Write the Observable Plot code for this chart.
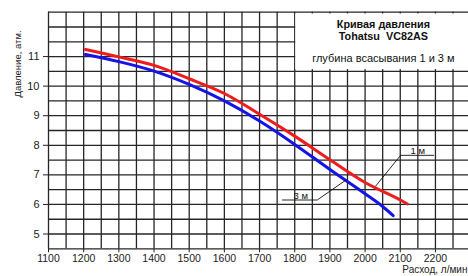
<!DOCTYPE html>
<html>
<head>
<meta charset="utf-8">
<script src="https://cdn.jsdelivr.net/npm/d3@7"></script>
<script src="https://cdn.jsdelivr.net/npm/@observablehq/plot@0.6"></script>
<style>
  html, body { margin: 0; padding: 0; background: #fff; }
  #chart svg { display: block; }
  #chart svg [aria-label^="x-axis"] text { font-size: 10.5px; }
</style>
</head>
<body>
<div id="chart"></div>
<script>
// --- data ---
const flow1m = [1205, 1300, 1400, 1500, 1600, 1700, 1800, 1900, 2000, 2100, 2120];
const press1m = [11.24, 10.99, 10.70, 10.25, 9.75, 9.05, 8.31, 7.51, 6.74, 6.15, 6.02];
const flow3m = [1205, 1300, 1400, 1500, 1600, 1700, 1800, 1900, 2000, 2050, 2080];
const press3m = [11.07, 10.83, 10.51, 10.06, 9.50, 8.82, 8.03, 7.18, 6.36, 5.93, 5.62];

const xTicks = [1100, 1200, 1300, 1400, 1500, 1600, 1700, 1800, 1900, 2000, 2100, 2200];
const yTicks = [5, 6, 7, 8, 9, 10, 11];
const xGrid = d3.range(1100, 2251, 50);
const yGrid = d3.range(4.5, 12.51, 0.5);

const titleLines = ["Кривая давления", "Tohatsu  VC82AS"];
const subtitle = "глубина всасывания 1 и 3 м";
const yLabel = "Давление, атм.";
const xLabel = "Расход, л/мин";
const seriesLabels = ["1 м", "3 м"];

// leader lines for series labels (flow, pressure)
const leader1m = [[2195, 7.66], [2101, 7.66], [2030, 6.62]];
const leader3m = [[1765, 6.15], [1864, 6.15], [1945, 6.82]];

const s1 = flow1m.map((f, i) => ({flow: f, p: press1m[i]}));
const s3 = flow3m.map((f, i) => ({flow: f, p: press3m[i]}));

const gridColor = "#262626";

const chart = Plot.plot({
  width: 468,
  height: 276,
  marginLeft: 48,
  marginRight: 0,
  marginTop: 11.7,
  marginBottom: 27.7,
  style: {fontFamily: "'Liberation Sans', Arial, sans-serif", fontSize: "11px", color: "#222", background: "#fff"},
  x: {domain: [1100, 2294], ticks: xTicks, tickSize: 4, tickPadding: 2, tickFormat: d => String(d), label: null},
  y: {domain: [4.5, 12.5], ticks: yTicks, tickSize: 5, tickPadding: 4, label: null},
  marks: [
    Plot.ruleX(xGrid, {stroke: gridColor, strokeWidth: 1.3}),
    Plot.ruleY(yGrid, {stroke: gridColor, strokeWidth: 1.3}),
    // white title box in upper right
    Plot.rect([{x1: 1803, x2: 2294, y1: 10.56, y2: 12.44}], {x1: "x1", x2: "x2", y1: "y1", y2: "y2", fill: "#fff"}),
    Plot.text(titleLines, {x: 2052, y: (d, i) => [12.08, 11.69][i], text: d => d, fontWeight: "bold", fontSize: 10.8, fill: "#111"}),
    Plot.text([subtitle], {x: 2052, y: 10.93, text: d => d, fontSize: 11, fill: "#111"}),
    // curves
    Plot.line(s1, {x: "flow", y: "p", stroke: "#ee1c1c", strokeWidth: 3, curve: "monotone-x"}),
    Plot.line(s3, {x: "flow", y: "p", stroke: "#1414e6", strokeWidth: 3, curve: "monotone-x"}),
    // leaders
    Plot.line(leader1m, {x: d => d[0], y: d => d[1], stroke: "#111", strokeWidth: 0.9}),
    Plot.line(leader3m, {x: d => d[0], y: d => d[1], stroke: "#111", strokeWidth: 0.9}),
    Plot.text([seriesLabels[0]], {x: 2150, y: 7.8, text: d => d, fontSize: 9.5, fill: "#111"}),
    Plot.text([seriesLabels[1]], {x: 1817, y: 6.3, text: d => d, fontSize: 9.5, fill: "#111"}),
    // axis titles
    Plot.text([yLabel], {x: 1012, y: 10.75, text: d => d, rotate: -90, fontSize: 9.5, fill: "#222"}),
    Plot.text([xLabel], {x: 2291, y: 3.78, text: d => d, textAnchor: "end", fontSize: 10, fill: "#222"})
  ]
});
document.getElementById("chart").appendChild(chart);
</script>
</body>
</html>
